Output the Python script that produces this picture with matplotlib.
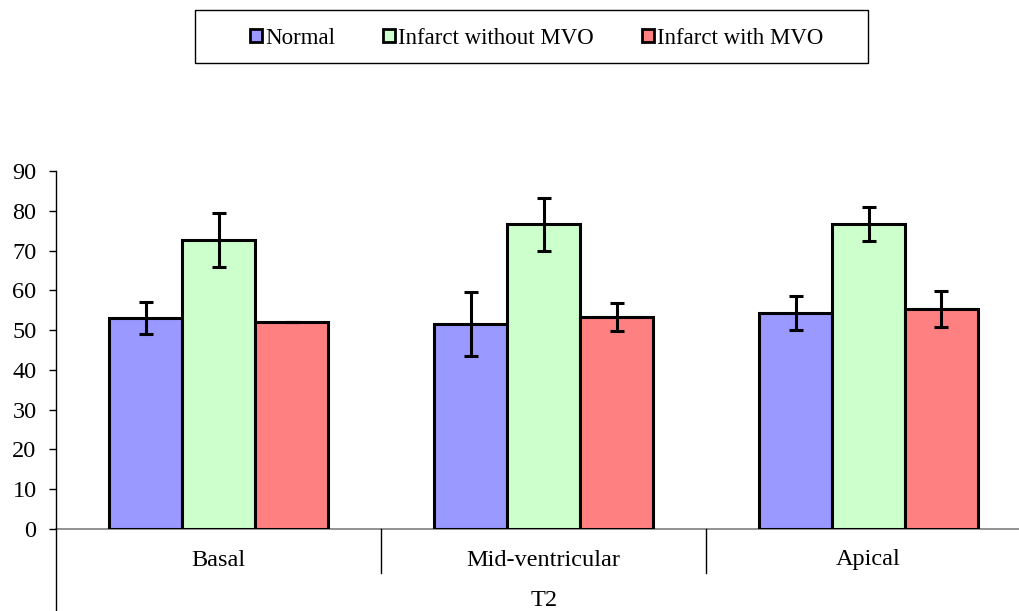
import matplotlib
matplotlib.use("Agg")
import matplotlib.pyplot as plt
from matplotlib.patches import Rectangle, Patch
from matplotlib.lines import Line2D
import numpy as np

plt.rcParams['font.family'] = ['Liberation Serif', 'DejaVu Serif']

categories = ["Basal", "Mid-ventricular", "Apical"]
series = ["Normal", "Infarct without MVO", "Infarct with MVO"]
normal = [53.0, 51.6, 54.3]
normal_err = [4.0, 8.0, 4.3]
infarct_no_mvo = [72.6, 76.6, 76.7]
infarct_no_mvo_err = [6.8, 6.7, 4.3]
infarct_mvo = [52.0, 53.4, 55.3]
infarct_mvo_err = [0.0, 3.5, 4.5]
colors = ["#9999FF", "#CCFFCC", "#FF8080"]
axis_title = "T2"
yticks = list(range(0, 100, 10))

W, H = 1019, 611
fig = plt.figure(figsize=(W / 100, H / 100), dpi=100)
ax_left = 56 / W
ax_right = 1031 / W
ax_bottom = (H - 529) / H
ax_top = (H - 171) / H
ax = fig.add_axes([ax_left, ax_bottom, ax_right - ax_left, ax_top - ax_bottom])

FS = 17.5
n = len(categories)
x = np.arange(n) + 0.5
bw = 73 / 325
vals = [normal, infarct_no_mvo, infarct_mvo]
errs = [normal_err, infarct_no_mvo_err, infarct_mvo_err]
for i, (v, e, c) in enumerate(zip(vals, errs, colors)):
    xs = x + (i - 1) * bw
    ax.bar(xs, v, width=bw, color=c, edgecolor="black", linewidth=2.2, zorder=2)
    ax.errorbar(xs, v, yerr=e, fmt="none", ecolor="black", elinewidth=2.2,
                capsize=5, capthick=2.2, zorder=3)

ax.set_xlim(0, n)
ax.set_ylim(0, 90)
ax.set_yticks(yticks)
ax.set_yticklabels([str(t) for t in yticks], fontsize=FS)
ax.tick_params(axis="y", direction="out", length=5, width=1, pad=9)
ax.set_xticks([])
for s in ["top", "right", "bottom", "left"]:
    ax.spines[s].set_visible(False)

# x axis line (zero line)
ax.axhline(0, color="#7f7f7f", linewidth=1.2, zorder=1, clip_on=False)
# y axis line, extends down to figure bottom
fig.add_artist(Line2D([ax_left, ax_left], [0, ax_top], transform=fig.transFigure,
                      color="black", linewidth=1.0))
# category separators
for k in range(1, n):
    xf = ax_left + (ax_right - ax_left) * k / n
    fig.add_artist(Line2D([xf, xf], [(H - 573) / H, ax_bottom],
                          transform=fig.transFigure, color="black", linewidth=1.0))
# category labels
for k, cat in enumerate(categories):
    xf = ax_left + (ax_right - ax_left) * (k + 0.5) / n
    fig.text(xf, 1 - 560 / H, cat, ha="center", va="center", fontsize=FS)
fig.text(544 / W, 1 - 601 / H, axis_title, ha="center", va="center", fontsize=FS)

# legend box
fig.add_artist(Rectangle((195 / W, 1 - 63 / H), 673 / W, 53 / H, transform=fig.transFigure,
                         fill=False, edgecolor="black", linewidth=1.0))
handles = [Patch(facecolor=c, edgecolor="black", linewidth=2.0) for c in colors]
fig.legend(handles, series, loc="center", bbox_to_anchor=(537 / W, 1 - 38 / H),
           ncol=3, frameon=False, fontsize=16.5, handlelength=0.5, handleheight=0.5,
           handletextpad=0.15, columnspacing=2.1, borderpad=0)

fig.savefig("out.png", dpi=100)
